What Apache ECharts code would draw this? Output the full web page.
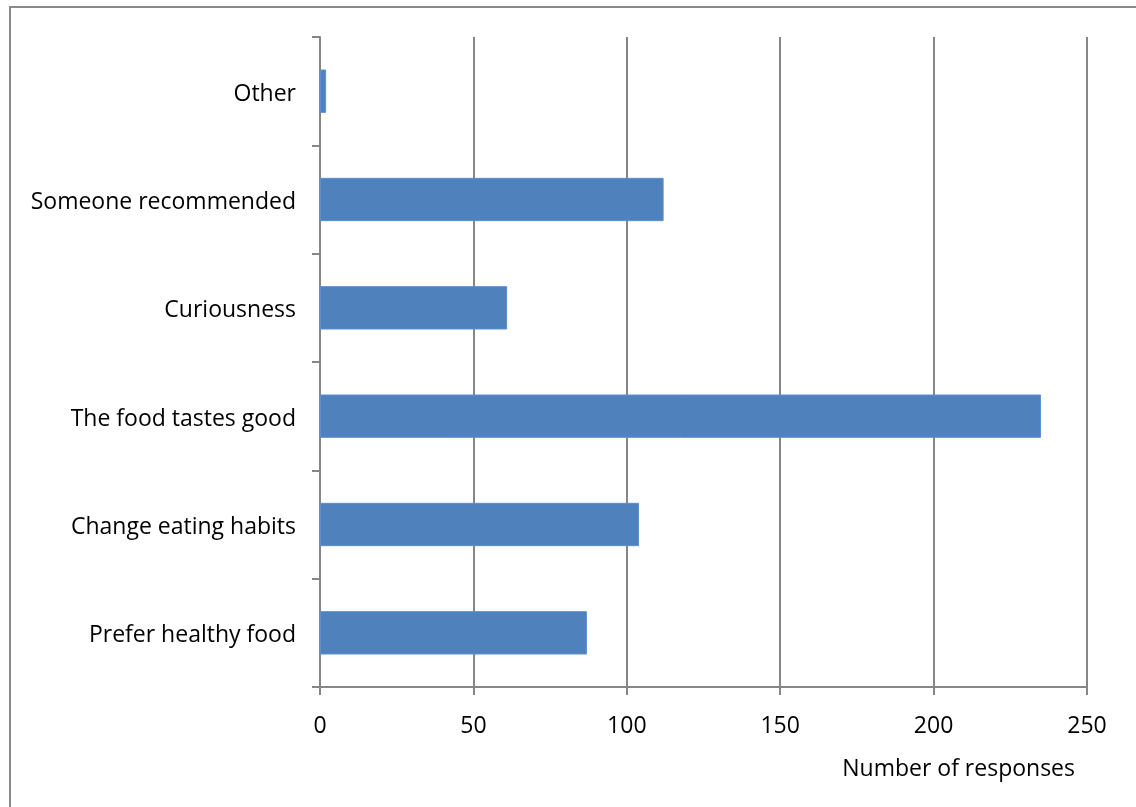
<!DOCTYPE html>
<html>
<head>
<meta charset="utf-8">
<script src="https://cdn.jsdelivr.net/npm/echarts@6/dist/echarts.min.js"></script>
<style>
  html, body { margin: 0; padding: 0; background: #fff; }
  #chart { width: 1136px; height: 807px; }
</style>
</head>
<body>
<div id="chart"></div>
<script>
// Reasons given, listed bottom to top as drawn on the category axis
const reasons = [
  'Prefer healthy food',
  'Change eating habits',
  'The food tastes good',
  'Curiousness',
  'Someone recommended',
  'Other'
];
const responses = [87, 104, 235, 61, 112, 2];
const axisTitle = 'Number of responses';

const font = '"Open Sans", Lato, sans-serif';
const fontSize = 23;
const gray = '#868686';

const chart = echarts.init(document.getElementById('chart'));
chart.setOption({
  animation: false,
  backgroundColor: '#fff',
  graphic: [{
    type: 'rect',
    shape: { x: 10, y: 7, width: 1300, height: 1000 },
    style: { fill: 'none', stroke: '#8a8a8a', lineWidth: 2 },
    silent: true
  }],
  grid: { left: 320, right: 49, top: 37, bottom: 120, containLabel: false },
  xAxis: {
    type: 'value',
    min: 0,
    max: 250,
    interval: 50,
    name: axisTitle,
    nameLocation: 'end',
    nameGap: -12,
    nameTextStyle: {
      fontFamily: font, fontSize: fontSize, color: '#000',
      align: 'right', verticalAlign: 'top', padding: [71, 0, 0, 0]
    },
    axisLine: { show: true, lineStyle: { color: gray, width: 2 } },
    axisTick: { show: true, length: 8, lineStyle: { color: gray, width: 2 } },
    axisLabel: { fontFamily: font, fontSize: fontSize, color: '#000', margin: 28 },
    splitLine: { show: true, lineStyle: { color: gray, width: 2 } }
  },
  yAxis: {
    type: 'category',
    data: reasons,
    axisLine: { show: true, lineStyle: { color: gray, width: 2 } },
    axisTick: { show: true, length: 8, alignWithLabel: false, lineStyle: { color: gray, width: 2 } },
    axisLabel: {
      margin: 24,
      formatter: '{t|{value}}',
      rich: {
        t: { fontFamily: font, fontSize: fontSize, color: '#000', padding: [6, 0, 0, 0] }
      }
    },
    splitLine: { show: false }
  },
  series: [{
    type: 'bar',
    data: responses,
    barCategoryGap: '60%',
    itemStyle: { color: '#4F81BD', borderColor: '#5B8FCF', borderWidth: 1 }
  }]
});
</script>
</body>
</html>
